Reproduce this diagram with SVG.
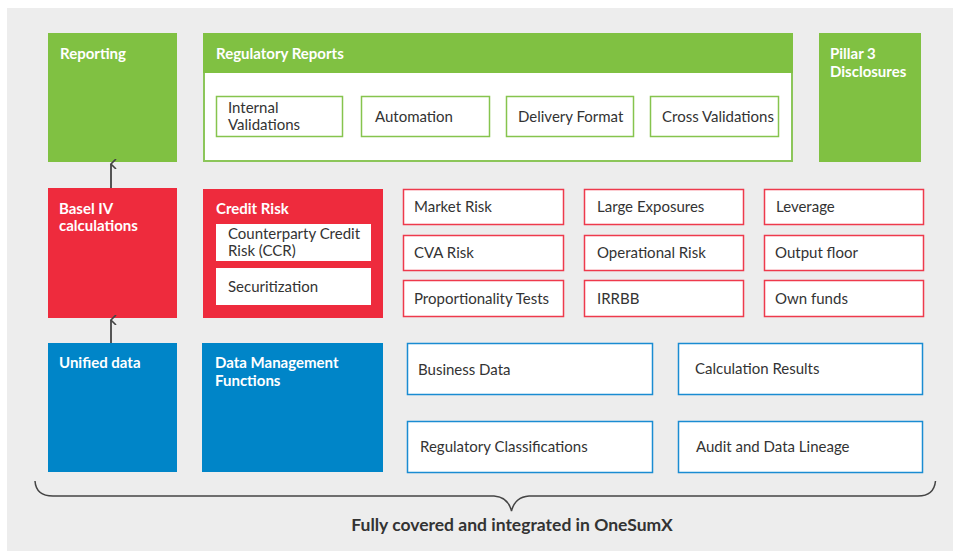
<svg xmlns="http://www.w3.org/2000/svg" width="953" height="551" viewBox="0 0 953 551">
<style>
.hd{font-family:Lato,"Liberation Sans",sans-serif;font-weight:700;font-size:15px;fill:#ffffff}
.tx{font-family:Lato,"Liberation Sans",sans-serif;font-size:15px;fill:#333333}
.ft{font-family:Lato,"Liberation Sans",sans-serif;font-weight:700;font-size:17.5px;fill:#333333}
.g{fill:#80C142}
.r{fill:#EE2B3D}
.b{fill:#0085C8}
.gb{fill:#ffffff;stroke:#86C44E;stroke-width:1.5}
.rb{fill:#ffffff;stroke:#EE3A4C;stroke-width:1.5}
.bb{fill:#ffffff;stroke:#1A8CD2;stroke-width:1.5}
.wb{fill:#ffffff}
.conn{stroke:#555555;stroke-width:2;fill:none}
</style>
<defs>
<marker id="ah" viewBox="0 0 10 10" refX="5" refY="2" markerWidth="10" markerHeight="10" markerUnits="userSpaceOnUse" orient="auto-start-reverse">
<path d="M0,7 L5,2 L10,7" fill="none" stroke="#444" stroke-width="1.6"/>
</marker>
</defs>
<rect x="7" y="8" width="946" height="543" fill="#EDEDED"/>

<g id="reporting"><rect class="g" x="48" y="33" width="129" height="129"/><text class="hd" x="60" y="59">Reporting</text></g>

<g id="regulatory-reports">
<rect x="204" y="34" width="588" height="127" fill="#ffffff" stroke="#8CC65A" stroke-width="2"/>
<rect class="g" x="203" y="33" width="590" height="40"/>
<text class="hd" x="216" y="59">Regulatory Reports</text>
</g>
<g id="internal-validations"><rect class="gb" x="216.5" y="96.5" width="126" height="40"/><text class="tx" x="228" y="113">Internal</text><text class="tx" x="228" y="130">Validations</text></g>
<g id="automation"><rect class="gb" x="361.5" y="96.5" width="128" height="40"/><text class="tx" x="375" y="122">Automation</text></g>
<g id="delivery-format"><rect class="gb" x="506.5" y="96.5" width="127" height="40"/><text class="tx" x="518" y="122">Delivery Format</text></g>
<g id="cross-validations"><rect class="gb" x="650.5" y="96.5" width="128" height="40"/><text class="tx" x="662" y="122">Cross Validations</text></g>

<g id="pillar3"><rect class="g" x="819" y="33" width="102" height="129"/><text class="hd" x="830" y="59">Pillar 3</text><text class="hd" x="830" y="77">Disclosures</text></g>

<g id="basel-iv"><rect class="r" x="48" y="188" width="129" height="130"/><text class="hd" x="59" y="214">Basel IV</text><text class="hd" x="59" y="231">calculations</text></g>

<g id="credit-risk"><rect class="r" x="203" y="189" width="180" height="129"/><text class="hd" x="216" y="214">Credit Risk</text></g>
<g id="ccr"><rect class="wb" x="216" y="224" width="155" height="37"/><text class="tx" x="228" y="239">Counterparty Credit</text><text class="tx" x="228" y="256">Risk (CCR)</text></g>
<g id="securitization"><rect class="wb" x="216" y="268" width="155" height="37"/><text class="tx" x="228" y="292">Securitization</text></g>

<g id="market-risk"><rect class="rb" x="403.5" y="189.5" width="160" height="35"/><text class="tx" x="414" y="212">Market Risk</text></g>
<g id="large-exposures"><rect class="rb" x="584.5" y="189.5" width="159" height="35"/><text class="tx" x="597" y="212">Large Exposures</text></g>
<g id="leverage"><rect class="rb" x="764.5" y="189.5" width="159" height="35"/><text class="tx" x="776" y="212">Leverage</text></g>
<g id="cva-risk"><rect class="rb" x="403.5" y="235.5" width="160" height="35"/><text class="tx" x="414" y="258">CVA Risk</text></g>
<g id="operational-risk"><rect class="rb" x="584.5" y="235.5" width="159" height="35"/><text class="tx" x="597" y="258">Operational Risk</text></g>
<g id="output-floor"><rect class="rb" x="764.5" y="235.5" width="159" height="35"/><text class="tx" x="775" y="258">Output floor</text></g>
<g id="proportionality-tests"><rect class="rb" x="403.5" y="280.5" width="160" height="36"/><text class="tx" x="414" y="304">Proportionality Tests</text></g>
<g id="irrbb"><rect class="rb" x="584.5" y="280.5" width="159" height="36"/><text class="tx" x="597" y="304">IRRBB</text></g>
<g id="own-funds"><rect class="rb" x="764.5" y="280.5" width="159" height="36"/><text class="tx" x="775" y="304">Own funds</text></g>

<g id="unified-data"><rect class="b" x="48" y="343" width="129" height="129"/><text class="hd" x="59" y="368">Unified data</text></g>
<g id="data-management"><rect class="b" x="202" y="343" width="181" height="129"/><text class="hd" x="215" y="368">Data Management</text><text class="hd" x="215" y="386">Functions</text></g>

<g id="business-data"><rect class="bb" x="407.5" y="343.5" width="245" height="51"/><text class="tx" x="418" y="375">Business Data</text></g>
<g id="calculation-results"><rect class="bb" x="678.5" y="343.5" width="244" height="51"/><text class="tx" x="695" y="374">Calculation Results</text></g>
<g id="regulatory-classifications"><rect class="bb" x="407.5" y="421.5" width="245" height="51"/><text class="tx" x="420" y="452">Regulatory Classifications</text></g>
<g id="audit-lineage"><rect class="bb" x="678.5" y="421.5" width="244" height="51"/><text class="tx" x="696" y="452">Audit and Data Lineage</text></g>

<g id="connectors">
<line class="conn" x1="111" y1="188" x2="111" y2="164" marker-end="url(#ah)"/>
<line class="conn" x1="111" y1="343" x2="111" y2="320" marker-end="url(#ah)"/>
</g>

<g id="brace">
<path d="M35,481 Q36,496 53,496 L494,496 Q508,497 511.5,511 Q515,497 529,496 L918,496 Q934,496 935.5,481" fill="none" stroke="#444444" stroke-width="1.5"/>
<text class="ft" x="512" y="531" text-anchor="middle">Fully covered and integrated in OneSumX</text>
</g>
</svg>
